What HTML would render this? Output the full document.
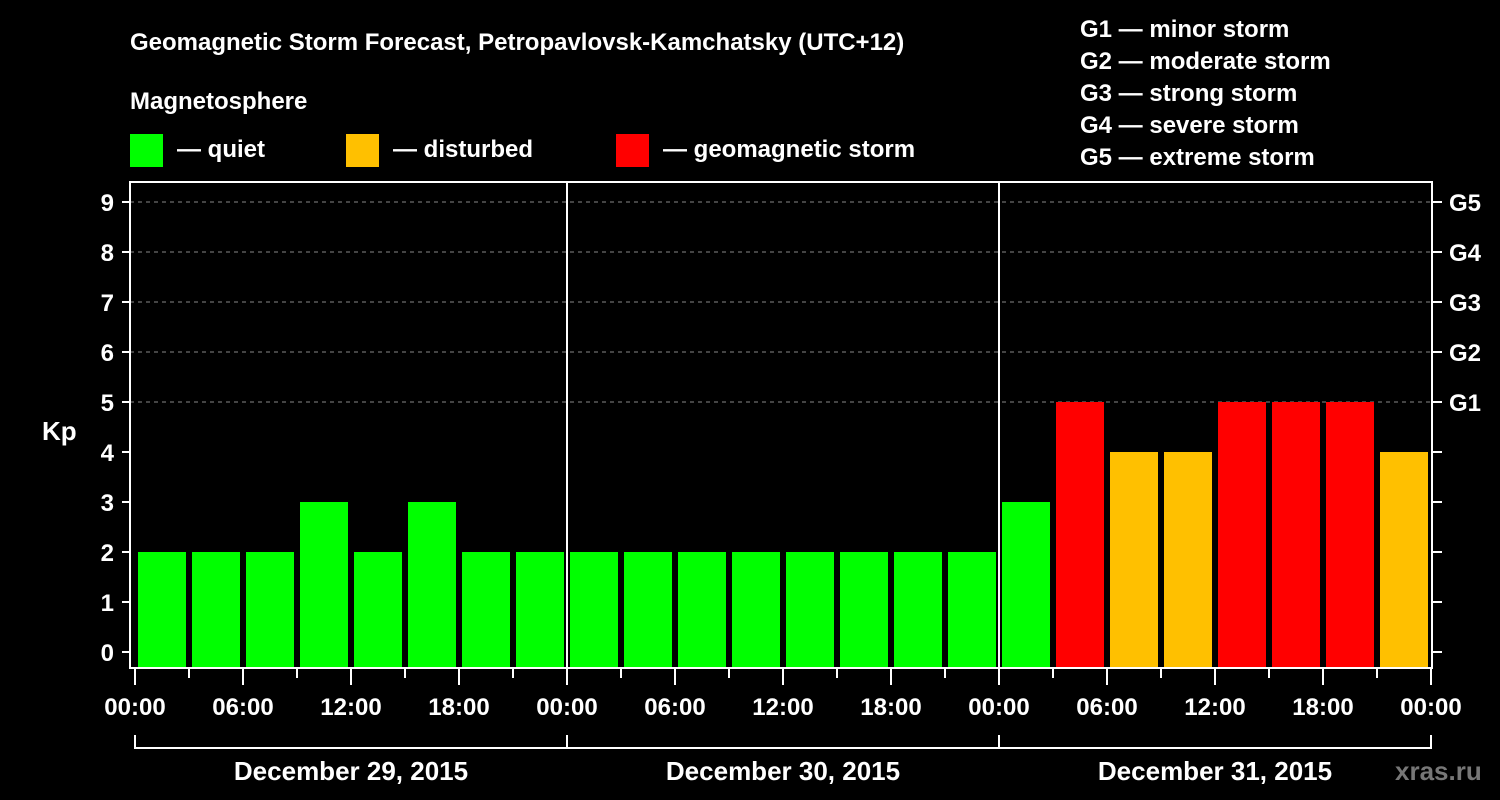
<!DOCTYPE html>
<html><head><meta charset="utf-8"><style>
body{margin:0;background:#000;}
svg{display:block;font-family:"Liberation Sans",sans-serif;font-weight:bold;}
</style></head><body>
<svg id="c" width="1500" height="800" viewBox="0 0 1500 800">
<rect width="1500" height="800" fill="#000"/>
<text x="130" y="50" fill="#fff" font-size="24">Geomagnetic Storm Forecast, Petropavlovsk-Kamchatsky (UTC+12)</text>
<text x="130" y="109" fill="#fff" font-size="24">Magnetosphere</text>
<g><rect x="130" y="134" width="33" height="33" fill="#00ff00"/><text x="177" y="157" fill="#fff" font-size="24">— quiet</text></g>
<g><rect x="346" y="134" width="33" height="33" fill="#ffc000"/><text x="393" y="157" fill="#fff" font-size="24">— disturbed</text></g>
<g><rect x="616" y="134" width="33" height="33" fill="#ff0000"/><text x="663" y="157" fill="#fff" font-size="24">— geomagnetic storm</text></g>
<g fill="#fff" font-size="24">
<text x="1080" y="37">G1 — minor storm</text>
<text x="1080" y="69">G2 — moderate storm</text>
<text x="1080" y="101">G3 — strong storm</text>
<text x="1080" y="133">G4 — severe storm</text>
<text x="1080" y="165">G5 — extreme storm</text>
</g>
<text x="42" y="440" fill="#fff" font-size="26">Kp</text>
<text x="1395" y="780" fill="#777" font-size="26">xras.ru</text>
<g id="plot"></g>
</svg>
<script>
const kpValues=[2,2,2,3,2,3,2,2, 2,2,2,2,2,2,2,2, 3,5,4,4,5,5,5,4];
const dayLabels=["December 29, 2015","December 30, 2015","December 31, 2015"];
const hourLabels=["00:00","06:00","12:00","18:00"];
const gLabels=["G1","G2","G3","G4","G5"];
const yTicks=[0,1,2,3,4,5,6,7,8,9];
const NS="http://www.w3.org/2000/svg";
const g=document.getElementById('plot');
const X0=135,PX_PER_SLOT=54,Y0=652,PX_PER_KP=50,TOP=182,BOT=668,LEFT=130,RIGHT=1432;
const xs=i=>X0+i*PX_PER_SLOT;
const ys=v=>Y0-v*PX_PER_KP;
function mk(t,a){const e=document.createElementNS(NS,t);for(const k in a)e.setAttribute(k,a[k]);g.appendChild(e);return e;}
function color(v){return v>=5?"#ff0000":v>=4?"#ffc000":"#00ff00";}
// grid
for(let v=5;v<=9;v++){const l=mk('line',{x1:LEFT,x2:RIGHT,y1:ys(v),y2:ys(v),stroke:'#888','stroke-dasharray':'4 4','stroke-width':1});

}
// bars
kpValues.forEach((v,i)=>{const r=mk('rect',{x:xs(i)+3,y:ys(v),width:48,height:BOT-ys(v),fill:color(v)});

});
// day separators
for(let d=1;d<3;d++){const l=mk('line',{x1:xs(d*8),x2:xs(d*8),y1:TOP,y2:BOT,stroke:'#fff','stroke-width':2});

}
// frame
const f=mk('rect',{x:LEFT,y:TOP,width:RIGHT-LEFT,height:BOT-TOP,fill:'none',stroke:'#fff','stroke-width':2});


// y ticks
yTicks.forEach(v=>{mk('line',{x1:122,x2:LEFT,y1:ys(v),y2:ys(v),stroke:'#fff','stroke-width':2});
mk('line',{x1:RIGHT,x2:1442,y1:ys(v),y2:ys(v),stroke:'#fff','stroke-width':2});
const t=mk('text',{x:114,y:ys(v)+9,fill:'#fff','font-size':24,'text-anchor':'end'});t.textContent=v;

});
gLabels.forEach((s,i)=>{const t=mk('text',{x:1449,y:ys(5+i)+9,fill:'#fff','font-size':24});t.textContent=s;

});
// x ticks
for(let i=0;i<=24;i++){const major=i%2===0;mk('line',{x1:xs(i),x2:xs(i),y1:BOT,y2:major?685:678,stroke:'#fff','stroke-width':2});
if(major){const t=mk('text',{x:xs(i),y:715,fill:'#fff','font-size':24,'text-anchor':'middle'});t.textContent=hourLabels[(i/2)%4];

}}
// day brackets
dayLabels.forEach((s,d)=>{const a=xs(d*8),b=xs(d*8+8);
mk('path',{d:`M${a} 735V748H${b}V735`,fill:'none',stroke:'#fff','stroke-width':2});
const t=mk('text',{x:(a+b)/2,y:780,fill:'#fff','font-size':26,'text-anchor':'middle'});t.textContent=s;

});
</script>
</body></html>
